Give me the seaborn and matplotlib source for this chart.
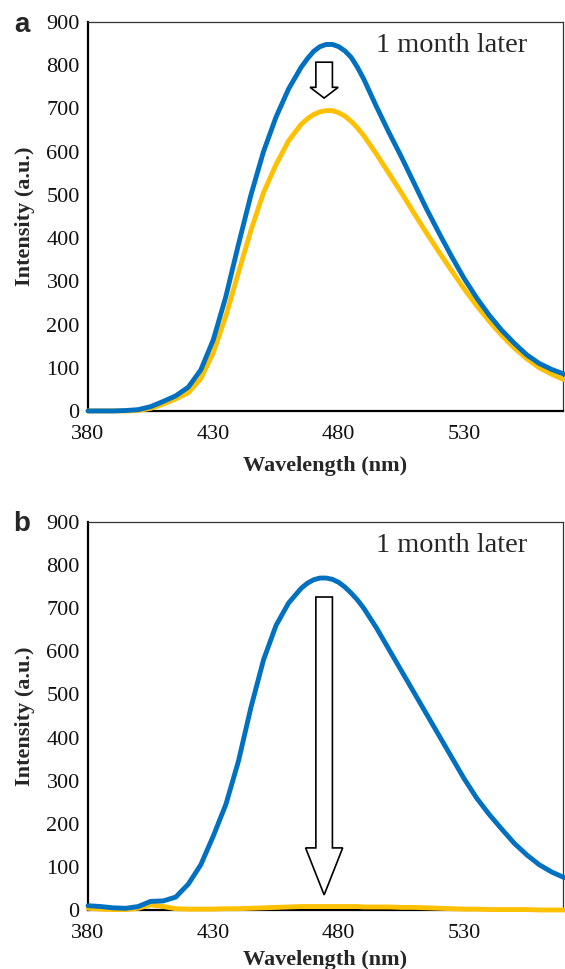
import matplotlib
matplotlib.use("Agg")
import matplotlib.pyplot as plt
import seaborn as sns
import pandas as pd
from matplotlib.patches import FancyArrow

wavelength = [380, 385, 390, 395, 400, 405, 410, 415, 420, 425, 430, 435, 440,
              445, 450, 455, 460, 465, 467.5, 470, 472.5, 475, 477.5, 480,
              482.5, 485, 487.5, 490, 495, 500, 505,
              510, 515, 520, 525, 530, 535, 540, 545, 550, 555, 560, 565, 570]

a_initial = [0, 0, 0, 1, 3, 10, 22, 35, 55, 95, 165, 265, 385,
             500, 600, 680, 745, 795, 815, 832, 843, 848, 848, 843,
             833, 818, 795, 768, 705, 645, 588,
             528, 468, 412, 358, 307, 262, 222, 187, 157, 130, 110, 96, 85]
a_later = [0, 0, 0, 0, 1, 6, 16, 28, 42, 75, 135, 220, 320,
           418, 505, 570, 625, 663, 676, 686, 692, 695, 695, 690,
           682, 670, 655, 637, 595, 550, 505,
           458, 412, 368, 325, 283, 244, 208, 175, 146, 121, 100, 85, 72]

b_initial = [10, 8, 5, 4, 8, 20, 21, 30, 60, 105, 172, 245, 345,
             470, 580, 660, 712, 746, 758, 766, 770, 770, 767, 760,
             749, 735, 719, 700, 655, 605, 555,
             505, 455, 405, 355, 305, 260, 222, 188, 155, 128, 105, 88, 75]
b_later = [4, 2, 1, 1, 4, 12, 8, 3, 2, 2, 2, 3, 3,
           4, 5, 6, 7, 8, 8, 8, 8, 8, 8, 8,
           8, 8, 8, 7, 7, 7, 6,
           6, 5, 4, 3, 2, 2, 1, 1, 1, 1, 0, 0, 0]

x_ticks = [380, 430, 480, 530]
y_ticks = [0, 100, 200, 300, 400, 500, 600, 700, 800, 900]
annotation = "1 month later"
panel_labels = ["a", "b"]

BLUE = "#0070C0"
YELLOW = "#FFC000"

sns.set_style("white")
plt.rcParams["font.family"] = ["Liberation Serif", "DejaVu Serif"]

fig = plt.figure(figsize=(5.65, 9.69), dpi=100)

panels = [
    (a_initial, a_later, [0.1558, 0.5759, 0.8407, 0.4014], (474.2, 807, 724), 32, 9),
    (b_initial, b_later, [0.1558, 0.0609, 0.8407, 0.4004], (474.2, 726, 35), 531, 5),
]

for i, (init, later, rect, arrow, lab_base, xpad) in enumerate(panels):
    ax = fig.add_axes(rect)
    df = pd.DataFrame({"Wavelength": wavelength, "init": init, "later": later})
    sns.lineplot(data=df, x="Wavelength", y="init", ax=ax, color=BLUE,
                 linewidth=3.5, clip_on=False, zorder=4)
    sns.lineplot(data=df, x="Wavelength", y="later", ax=ax, color=YELLOW,
                 linewidth=3.5, clip_on=False, zorder=3)
    ax.set_xlim(380, 569.5)
    ax.set_ylim(0, 900)
    ax.set_xticks(x_ticks)
    ax.set_yticks(y_ticks)
    ax.tick_params(axis="x", direction="in", length=6.5, width=1.3,
                   labelsize=16, pad=10, colors="black", labelcolor="#111111")
    ax.tick_params(axis="y", length=0, labelsize=16, pad=6,
                   labelcolor="#111111")
    for s in ["left", "bottom"]:
        ax.spines[s].set_linewidth(1.6)
        ax.spines[s].set_color("black")
    for s in ["top", "right"]:
        ax.spines[s].set_linewidth(0.9)
        ax.spines[s].set_color("#333333")
    ax.set_xlabel("Wavelength (nm)", fontsize=16, fontweight="bold", labelpad=xpad)
    ax.set_ylabel("Intensity (a.u.)", fontsize=16, fontweight="bold", labelpad=8)
    ax.grid(False)

    ax.text(494.7, 846, annotation, fontsize=20.4, ha="left", va="center")

    xc, ytop, ytip = arrow
    head_len = (ytop - ytip) * 0.3 if i == 0 else 109
    arr = FancyArrow(xc, ytop, 0, ytip - ytop, width=6.6, head_width=11.2 if i == 0 else 14.8,
                     head_length=head_len, length_includes_head=True,
                     facecolor="white", edgecolor="black", linewidth=1.2, zorder=5)
    ax.add_patch(arr)

    fig.text(0.038, 1 - lab_base / 969, panel_labels[i], fontsize=20,
             fontweight="bold", family=["Liberation Sans", "DejaVu Sans"],
             ha="center", va="baseline")

fig.savefig("out.png", dpi=100)
